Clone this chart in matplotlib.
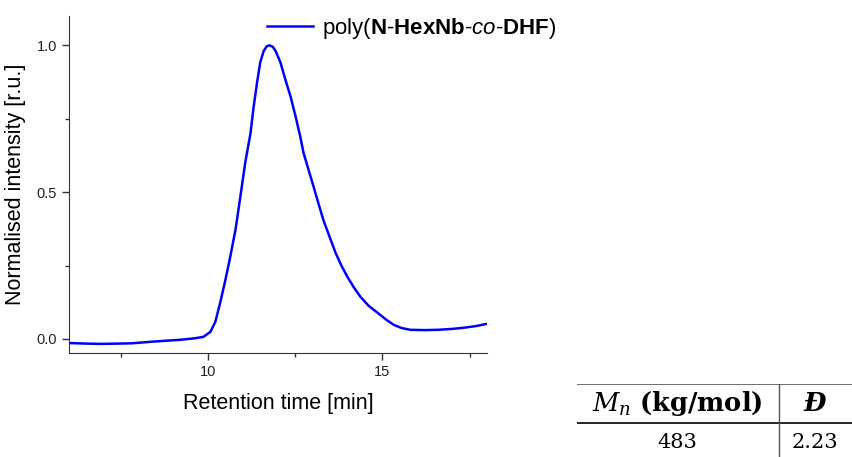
import matplotlib.pyplot as plt
from matplotlib.ticker import MultipleLocator

plt.rcParams['font.family'] = 'Liberation Sans'
plt.rcParams['mathtext.fontset'] = 'custom'
plt.rcParams['mathtext.rm'] = 'Liberation Sans'
plt.rcParams['mathtext.it'] = 'Liberation Sans:italic'
plt.rcParams['mathtext.bf'] = 'Liberation Sans:bold'

# GPC trace
time_min = [6.0, 6.5, 6.9, 7.4, 7.8, 8.33, 8.8, 9.2, 9.6, 9.86, 10.06, 10.2, 10.34,
            10.49, 10.63, 10.78, 10.92, 11.06, 11.21, 11.3, 11.4, 11.49, 11.59, 11.68,
            11.76, 11.85, 11.93, 12.07, 12.21, 12.36, 12.5, 12.64, 12.73, 12.88, 13.02,
            13.16, 13.3, 13.48, 13.65, 13.82, 13.99, 14.18, 14.37, 14.6, 14.86, 15.1,
            15.32, 15.55, 15.8, 16.2, 16.58, 17.0, 17.33, 17.7, 18.02]
intensity = [-0.014, -0.016, -0.017, -0.016, -0.015, -0.01, -0.006, -0.003, 0.002,
             0.007, 0.024, 0.058, 0.123, 0.201, 0.28, 0.372, 0.485, 0.601, 0.70, 0.79,
             0.874, 0.942, 0.981, 0.997, 1.0, 0.995, 0.981, 0.942, 0.884, 0.826, 0.76,
             0.689, 0.635, 0.575, 0.519, 0.462, 0.406, 0.348, 0.294, 0.25, 0.212, 0.175,
             0.143, 0.113, 0.089, 0.066, 0.048, 0.037, 0.031, 0.03, 0.031, 0.034,
             0.038, 0.044, 0.052]

label = r'poly($\mathbf{N}$-$\mathbf{HexNb}$-$\mathit{co}$-$\mathbf{DHF}$)'

# table values
col_headers = [r'$M_n\ \mathbf{(kg/mol)}$', r'$\mathbfit{Đ}$']
row_values = ['483', '2.23']

fig = plt.figure(figsize=(8.53, 4.57), dpi=100)
ax = fig.add_axes([69/853, 1 - 353/457, 418/853, 337/457])

ax.plot(time_min, intensity, color='#0000ff', lw=1.8, label=label)
ax.set_xlim(6, 18)
ax.set_ylim(-0.048, 1.1)
ax.xaxis.set_major_locator(MultipleLocator(5))
ax.xaxis.set_minor_locator(MultipleLocator(2.5))
ax.yaxis.set_major_locator(MultipleLocator(0.5))
ax.yaxis.set_minor_locator(MultipleLocator(0.25))
ax.tick_params(which='major', direction='out', length=5, width=1, labelsize=10.5,
               color='#333333', labelcolor='#222222')
ax.tick_params(which='minor', direction='out', length=3, width=1, color='#333333')
for side in ['top', 'right']:
    ax.spines[side].set_visible(False)
for side in ['left', 'bottom']:
    ax.spines[side].set_color('#333333')
ax.set_xlabel('Retention time [min]', fontsize=15.5, labelpad=10)
ax.set_ylabel('Normalised intensity [r.u.]', fontsize=15.5, labelpad=8)
ax.legend(loc='upper left', bbox_to_anchor=(0.425, 1.06), frameon=False, fontsize=16,
          handlelength=2.1, handletextpad=0.4)

# table
tab = fig.add_axes([577/853, 0, 276/853, 73/457])
tab.set_xlim(0, 1)
tab.set_ylim(0, 1)
tab.axis('off')
tab.axhline(1.0, color='#555555', lw=1.2)
tab.axhline(0.466, color='black', lw=1.2)
tab.axvline(0.732, color='#555555', lw=1)
tab.text(0.362, 0.73, col_headers[0], ha='center', va='center', fontsize=18.5,
         math_fontfamily='dejavuserif')
tab.text(0.862, 0.73, col_headers[1], ha='center', va='center', fontsize=18.5,
         math_fontfamily='dejavuserif')
tab.text(0.362, 0.2, row_values[0], ha='center', va='center', fontsize=15,
         family='DejaVu Serif')
tab.text(0.862, 0.2, row_values[1], ha='center', va='center', fontsize=15,
         family='DejaVu Serif')

fig.savefig('out.png', dpi=100)
